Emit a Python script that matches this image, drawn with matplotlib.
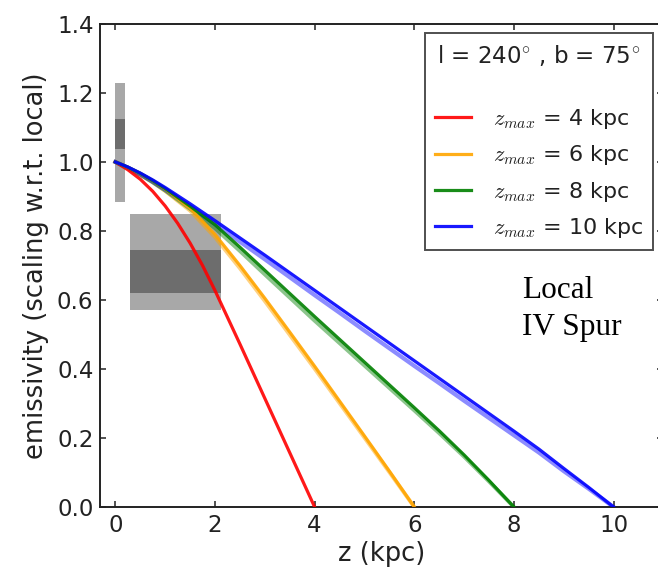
import matplotlib
matplotlib.use("Agg")
import matplotlib.pyplot as plt
from matplotlib.patches import Rectangle

plt.rcParams['font.family'] = ['DejaVu Sans']
plt.rcParams['mathtext.fontset'] = 'cm'

# emissivity profiles (scaled to the local value) for each halo height z_max
z_max_values = [4, 6, 8, 10]
curve_colors = ['red', 'orange', 'green', 'blue']

z_red = [0, 0.25, 0.5, 0.75, 1, 1.25, 1.5, 1.75, 2, 2.5, 3, 3.5, 4]
em_red = [1.0, 0.9775, 0.95, 0.915, 0.8725, 0.8225, 0.765, 0.70, 0.6275,
          0.4725, 0.315, 0.1575, 0.0]

z_orange = [0, 0.25, 0.5, 0.75, 1, 1.5, 2, 2.5, 3, 3.5, 4, 4.5, 5, 5.5, 6]
em_orange = [1.0, 0.985, 0.967, 0.946, 0.922, 0.866, 0.790, 0.700, 0.605, 0.507,
             0.408, 0.307, 0.206, 0.104, 0.0]
em_orange_alt = [1.0, 0.983, 0.963, 0.941, 0.916, 0.859, 0.782, 0.692, 0.597, 0.499,
                 0.401, 0.301, 0.201, 0.101, 0.0]

z_green = [0, 0.25, 0.5, 0.75, 1, 1.5, 2, 2.5, 3, 3.5, 4, 4.5, 5, 5.5, 6, 6.5, 7, 7.5, 8]
em_green = [1.0, 0.985, 0.967, 0.946, 0.923, 0.872, 0.818, 0.753, 0.686, 0.619,
            0.552, 0.486, 0.420, 0.354, 0.288, 0.221, 0.151, 0.077, 0.0]
em_green_alt = [1.0, 0.983, 0.963, 0.941, 0.917, 0.864, 0.808, 0.742, 0.674, 0.607,
                0.540, 0.475, 0.410, 0.345, 0.280, 0.214, 0.146, 0.074, 0.0]

z_blue = [0, 0.25, 0.5, 0.75, 1, 1.5, 2, 2.5, 3, 3.5, 4, 4.5, 5, 5.5, 6, 6.5, 7,
          7.5, 8, 8.5, 9, 9.5, 10]
em_blue = [1.0, 0.9855, 0.968, 0.948, 0.926, 0.879, 0.830, 0.780, 0.730, 0.679,
           0.628, 0.577, 0.526, 0.475, 0.424, 0.373, 0.322, 0.271, 0.220, 0.168,
           0.112, 0.057, 0.0]
em_blue_alt = [1.0, 0.9835, 0.964, 0.943, 0.920, 0.871, 0.820, 0.769, 0.718, 0.666,
               0.614, 0.563, 0.511, 0.460, 0.409, 0.359, 0.308, 0.258, 0.208, 0.158,
               0.104, 0.053, 0.0]

# measured emissivity ranges: [z_lo, z_hi], outer (light) and inner (dark) intervals
meas_z_lo = [0.0, 0.3]
meas_z_hi = [0.2, 2.12]
meas_outer_lo = [0.885, 0.57]
meas_outer_hi = [1.23, 0.85]
meas_inner_lo = [1.037, 0.62]
meas_inner_hi = [1.124, 0.745]

x_ticks = [0, 2, 4, 6, 8, 10]
y_ticks = [0.0, 0.2, 0.4, 0.6, 0.8, 1.0, 1.2, 1.4]

fig = plt.figure(figsize=(6.58, 5.75), dpi=100)
ax = fig.add_axes([0.1526, 0.1183, 0.8555, 0.84])

for zl, zh, ol, oh, il, ih in zip(meas_z_lo, meas_z_hi, meas_outer_lo, meas_outer_hi,
                                  meas_inner_lo, meas_inner_hi):
    ax.add_patch(Rectangle((zl, ol), zh - zl, oh - ol, facecolor='#a8a8a8',
                           edgecolor='none', zorder=1))
    ax.add_patch(Rectangle((zl, il), zh - zl, ih - il, facecolor='#6d6d6d',
                           edgecolor='none', zorder=1))

ax.plot(z_orange, em_orange_alt, color='orange', lw=2.8, alpha=0.5, zorder=2)
ax.plot(z_green, em_green_alt, color='green', lw=2.8, alpha=0.45, zorder=2)
ax.plot(z_blue, em_blue_alt, color='blue', lw=3.0, alpha=0.45, zorder=2)

curves = [(z_red, em_red), (z_orange, em_orange), (z_green, em_green), (z_blue, em_blue)]
for (zz, ee), zm, col in zip(curves, z_max_values, curve_colors):
    ax.plot(zz, ee, color=col, lw=2.3, alpha=0.9, zorder=3,
            label=r'$z_{max}$ = %d kpc' % zm)

ax.set_xlim(-0.3, 11)
ax.set_ylim(0, 1.4)
ax.set_xticks(x_ticks)
ax.set_yticks(y_ticks)
ax.set_yticklabels(['%.1f' % v for v in y_ticks])
ax.tick_params(direction='in', top=True, right=True, length=4.5, width=1.1,
               labelsize=16.5, pad=5, color='#222222', labelcolor='#222222')
for s in ax.spines.values():
    s.set_linewidth(1.4)
    s.set_color('#222222')

ax.set_xlabel('z (kpc)', fontsize=18.5, color='#222222', labelpad=3)
ax.set_ylabel('emissivity (scaling w.r.t. local)', fontsize=18.5, color='#222222',
              labelpad=6)

leg = ax.legend(loc='upper right', bbox_to_anchor=(0.9822, 0.9807), borderaxespad=0,
                title='l = 240$^{\\circ}$ , b = 75$^{\\circ}$\n', fontsize=16,
                title_fontsize=16.5, frameon=True, fancybox=False, handlelength=1.6,
                handletextpad=1.0, labelspacing=0.55, borderpad=0.45)
leg.get_frame().set_edgecolor('#222222')
leg.get_frame().set_linewidth(1.4)
for t in leg.get_texts():
    t.set_color('#222222')
leg.get_title().set_color('#222222')

fig.text(521.7 / 658, 1 - 298.3 / 575, 'Local', family='Liberation Serif',
         fontsize=22.5, va='baseline', ha='left', color='black')
fig.text(521.7 / 658, 1 - 335 / 575, 'IV Spur', family='Liberation Serif',
         fontsize=22.5, va='baseline', ha='left', color='black')

fig.savefig('out.png', dpi=100)
